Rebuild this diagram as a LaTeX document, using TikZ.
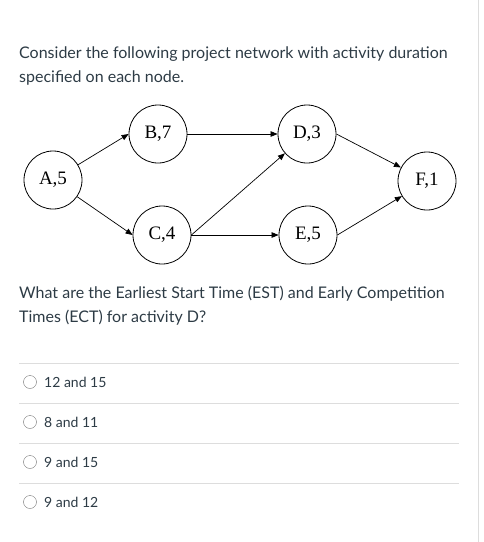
\documentclass[tikz,border=0pt]{standalone}
\usepackage{fontspec}
\setmainfont{Lato}
\newfontfamily\timesfont{Liberation Serif}
\usetikzlibrary{arrows.meta, positioning}
\definecolor{canvastext}{RGB}{45, 59, 69}
\definecolor{rulegray}{RGB}{221, 221, 221}
\definecolor{radiogray}{RGB}{115, 115, 115}

\begin{document}
\begin{tikzpicture}[x=1pt, y=-1pt,
        act/.style={circle, draw, line width=0.8pt, minimum size=58pt, inner sep=0pt, font=\timesfont\fontsize{19}{21}\selectfont},
        arrow/.style={-{Triangle[length=7pt, width=5.5pt]}, line width=0.7pt},
        qtext/.style={anchor=west, align=left, inner sep=0pt, text=canvastext, font=\fontsize{16}{24}\selectfont},
        opt/.style={anchor=west, inner sep=0pt, text=canvastext, font=\fontsize{14}{16}\selectfont},
        radio/.style={circle, draw=radiogray, thin, minimum size=13pt, inner sep=0pt}
    ]
        \useasboundingbox (0,0) rectangle (484,542);
        \draw[rulegray] (478,0) -- (478,542);

        \node[qtext] (intro) at (19,66) {Consider the following project network with activity duration\\specified on each node.};

        % network
        \node[act] (A) at (53,180) {A,5};
        \node[act] (B) at (158,134) {B,7};
        \node[act] (C) at (162,235) {C,4};
        \node[act] (D) at (307,134) {D,3};
        \node[act] (E) at (308,235) {E,5};
        \node[act] (F) at (427,181) {F,1};

        \draw[arrow] (A) -- (B.west);
        \draw[arrow] (A) -- (C.west);
        \draw[arrow] (B) -- (D);
        \draw[arrow] (C.east) -- (D);
        \draw[arrow] (C.east) -- (E);
        \draw[arrow] (D.east) -- (F);
        \draw[arrow] (E.east) -- (F);

        \node[qtext] (question) at (19,306) {What are the Earliest Start Time (EST) and Early Competition\\Times (ECT) for activity D?};

        % answers
        \foreach \y in {363,403,443,483}
            \draw[rulegray] (19,\y) -- (459,\y);
        \foreach \y/\ans [count=\i] in {382/12 and 15, 422/8 and 11, 462/9 and 15, 502/9 and 12} {
            \node[radio] (r\i) at (30,\y) {};
            \node[opt] (o\i) at (44,\y) {\ans};
        }
    \end{tikzpicture}
\end{document}
